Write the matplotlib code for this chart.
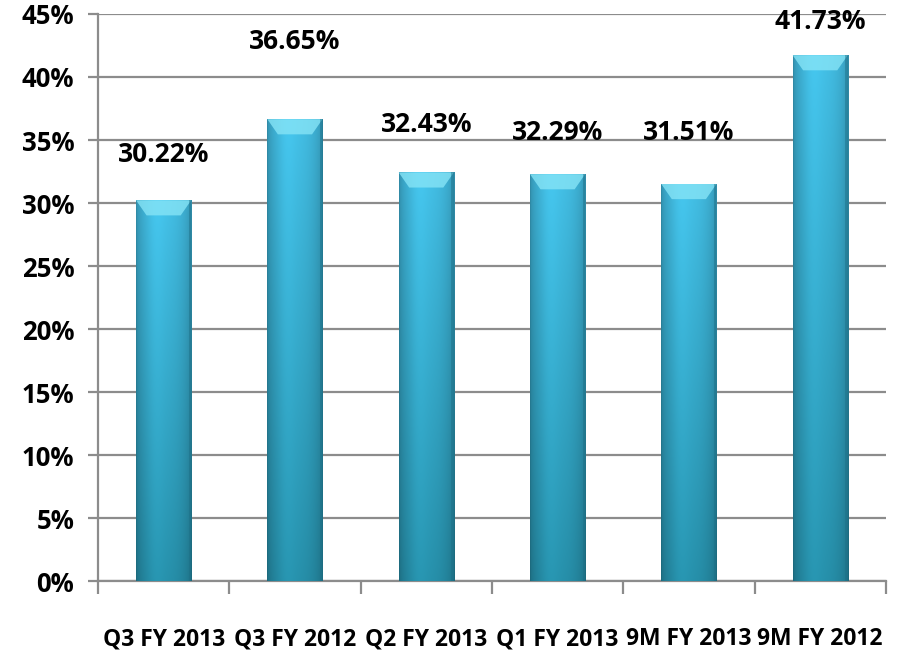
import numpy as np
import matplotlib.pyplot as plt
from matplotlib.patches import Polygon, Rectangle

# data
categories = ['Q3 FY 2013', 'Q3 FY 2012', 'Q2 FY 2013', 'Q1 FY 2013', '9M FY 2013', '9M FY 2012']
values = [30.22, 36.65, 32.43, 32.29, 31.51, 41.73]
value_labels = ['30.22%', '36.65%', '32.43%', '32.29%', '31.51%', '41.73%']

# label placement above each bar (layout only)
label_offsets = [3.6, 6.2, 3.8, 3.3, 4.1, 2.7]

plt.rcParams['font.family'] = ['Open Sans', 'DejaVu Sans']
plt.rcParams['font.weight'] = 'bold'

fig = plt.figure(figsize=(9.03, 6.53), dpi=100)
ax = fig.add_axes([0.1085, 0.110, 0.8725, 0.8686])

half = 0.21
top_col = np.array([66, 188, 226]) / 255
bot_col = np.array([38, 142, 168]) / 255

# horizontal shading profile of a cylinder
nx, ny = 60, 200
t = np.linspace(0, 1, nx)
prof = 0.74 + 0.28 * np.sin(np.pi * t) ** 0.5
prof = prof + 0.05 * np.exp(-((t - 0.35) / 0.15) ** 2)


def draw_bar(x, h):
    s = np.linspace(1, 0, ny)[:, None]  # 1 at top, 0 at bottom
    base = bot_col[None, None, :] + (top_col - bot_col)[None, None, :] * s[:, :, None]
    img = np.clip(base * prof[None, :, None], 0, 1)
    im = ax.imshow(img, extent=(x - half, x + half, 0, h), aspect='auto',
                   origin='upper', zorder=3, interpolation='bilinear')
    clip = Rectangle((x - half, 0), 2 * half, h, transform=ax.transData)
    im.set_clip_path(clip)
    # top bevel
    bh = 1.2
    inset = 0.08
    bevel = Polygon([(x - half, h), (x + half, h), (x + half - inset, h - bh),
                     (x - half + inset, h - bh)], closed=True,
                    facecolor='#86e4f6', edgecolor='none', alpha=0.8, zorder=4)
    ax.add_patch(bevel)
    # soft dark edge on the right side
    ax.add_patch(Rectangle((x + half - 0.02, 0), 0.02, h, facecolor='#1d6f86',
                           alpha=0.45, edgecolor='none', zorder=4))


for i, v in enumerate(values):
    draw_bar(i, v)
    ax.text(i, v + label_offsets[i], value_labels[i], ha='center', va='center',
            fontsize=19, fontweight='bold', color='black', zorder=5)

ax.set_xlim(-0.5, len(values) - 0.5)
ax.set_ylim(0, 45)
ax.set_yticks(np.arange(0, 46, 5))
ax.set_yticklabels([f'{v}%' for v in range(0, 46, 5)], fontsize=18.5, fontweight='bold')
ax.yaxis.grid(True, color='#8c8c8c', linewidth=1.6, zorder=1)
ax.set_axisbelow(True)

ax.set_xticks(np.arange(-0.5, len(values), 1))
ax.set_xticklabels([])
ax.set_xticks(np.arange(len(values)), minor=True)
ax.set_xticklabels(categories, minor=True, fontsize=16.5, fontweight='bold')
ax.tick_params(axis='x', which='major', length=9, width=1.6, color='#8c8c8c', direction='out')
ax.tick_params(axis='x', which='minor', length=0, pad=33)
ax.tick_params(axis='y', length=7, width=1.6, color='#8c8c8c', pad=10)

for side in ['top', 'right']:
    ax.spines[side].set_visible(False)
for side in ['left', 'bottom']:
    ax.spines[side].set_color('#8c8c8c')
    ax.spines[side].set_linewidth(1.6)

fig.savefig('out.png', dpi=100)
